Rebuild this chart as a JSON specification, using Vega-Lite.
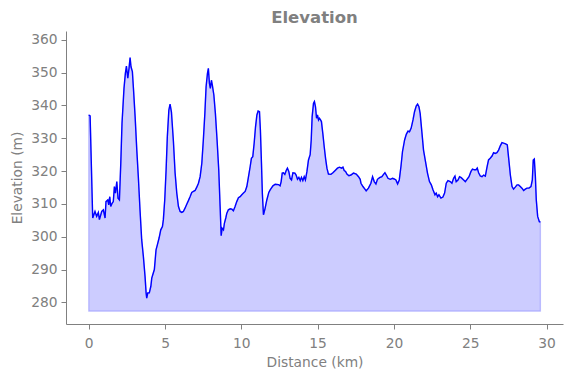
{
  "$schema": "https://vega.github.io/schema/vega-lite/v6.json",
  "autosize": {"type": "none"},
  "width": 497,
  "height": 293,
  "padding": {"left": 66, "top": 31, "right": 8, "bottom": 54},
  "background": "white",
  "title": {"text": "Elevation", "font": "DejaVu Sans", "fontSize": 16.5, "fontWeight": "bold", "color": "#808080", "anchor": "middle", "frame": "group", "offset": 5},
  "config": {
    "view": {"stroke": null},
    "axis": {"labelFont": "DejaVu Sans", "titleFont": "DejaVu Sans", "labelFontSize": 13.8, "titleFontSize": 13.8, "labelColor": "#808080", "titleColor": "#808080", "titleFontWeight": "normal", "domainColor": "#808080", "tickColor": "#808080", "tickSize": 5, "labelPadding": 4, "grid": false, "domainWidth": 1, "tickWidth": 1}
  },
  "data": {"values": [
    {"d":0,"e":337.1},{"d":0.09,"e":336.8},{"d":0.26,"e":305.7},{"d":0.41,"e":307.7},{"d":0.52,"e":306.2},{"d":0.63,"e":307.4},{"d":0.7,"e":305.2},{"d":0.85,"e":307.7},{"d":0.96,"e":308.2},{"d":1.07,"e":305.7},{"d":1.13,"e":310.7},{"d":1.25,"e":311.2},{"d":1.31,"e":309.7},{"d":1.38,"e":312.2},{"d":1.44,"e":309.2},{"d":1.53,"e":310.2},{"d":1.61,"e":310.7},{"d":1.68,"e":315.3},{"d":1.75,"e":313.3},{"d":1.84,"e":316.8},{"d":1.92,"e":311.7},{"d":2.01,"e":311.2},{"d":2.1,"e":322.4},{"d":2.18,"e":334.6},{"d":2.23,"e":338.6},{"d":2.31,"e":345.2},{"d":2.4,"e":349.8},{"d":2.47,"e":352},{"d":2.56,"e":348.3},{"d":2.64,"e":351.3},{"d":2.71,"e":354.6},{"d":2.77,"e":351.8},{"d":2.86,"e":350.3},{"d":2.93,"e":345.2},{"d":3.04,"e":336.6},{"d":3.15,"e":326.4},{"d":3.25,"e":318.3},{"d":3.36,"e":308.2},{"d":3.47,"e":299.1},{"d":3.58,"e":294},{"d":3.69,"e":287.9},{"d":3.76,"e":282.9},{"d":3.8,"e":281.3},{"d":3.87,"e":282.9},{"d":3.97,"e":282.9},{"d":4.07,"e":284.9},{"d":4.13,"e":287.4},{"d":4.24,"e":289.1},{"d":4.3,"e":290},{"d":4.41,"e":296},{"d":4.5,"e":297.6},{"d":4.61,"e":299.6},{"d":4.72,"e":302.1},{"d":4.83,"e":303.1},{"d":4.89,"e":305.2},{"d":4.98,"e":311.2},{"d":5.07,"e":320.4},{"d":5.15,"e":330.5},{"d":5.25,"e":338.6},{"d":5.33,"e":340.4},{"d":5.42,"e":338},{"d":5.55,"e":329},{"d":5.66,"e":319.4},{"d":5.77,"e":313.3},{"d":5.88,"e":309.2},{"d":5.99,"e":307.7},{"d":6.1,"e":307.4},{"d":6.2,"e":307.7},{"d":6.31,"e":308.7},{"d":6.43,"e":310},{"d":6.53,"e":311},{"d":6.64,"e":312.2},{"d":6.75,"e":313.5},{"d":6.86,"e":313.8},{"d":6.97,"e":314.1},{"d":7.08,"e":315.1},{"d":7.19,"e":316.3},{"d":7.3,"e":318.3},{"d":7.41,"e":322.4},{"d":7.51,"e":329.5},{"d":7.61,"e":337.6},{"d":7.69,"e":345.7},{"d":7.78,"e":349.8},{"d":7.84,"e":351.3},{"d":7.91,"e":346.7},{"d":7.97,"e":345.2},{"d":8.04,"e":347.7},{"d":8.1,"e":346.2},{"d":8.2,"e":343.2},{"d":8.3,"e":337.6},{"d":8.41,"e":329.5},{"d":8.52,"e":320.4},{"d":8.61,"e":309.2},{"d":8.68,"e":300.3},{"d":8.74,"e":302.6},{"d":8.83,"e":302.1},{"d":8.89,"e":304.1},{"d":8.98,"e":305.7},{"d":9.05,"e":307.2},{"d":9.15,"e":308.2},{"d":9.27,"e":308.5},{"d":9.38,"e":308.4},{"d":9.48,"e":307.9},{"d":9.59,"e":309.2},{"d":9.7,"e":310.7},{"d":9.81,"e":311.9},{"d":9.92,"e":312.2},{"d":10.03,"e":312.8},{"d":10.14,"e":313.3},{"d":10.25,"e":313.8},{"d":10.36,"e":315.3},{"d":10.47,"e":318.3},{"d":10.58,"e":321.4},{"d":10.66,"e":323.9},{"d":10.75,"e":324.4},{"d":10.84,"e":328.5},{"d":10.93,"e":333.5},{"d":11.02,"e":337.1},{"d":11.1,"e":338.3},{"d":11.19,"e":338.1},{"d":11.25,"e":332.5},{"d":11.32,"e":322.4},{"d":11.38,"e":313},{"d":11.45,"e":306.7},{"d":11.55,"e":308.5},{"d":11.67,"e":311.2},{"d":11.8,"e":313.5},{"d":11.89,"e":314.3},{"d":12.07,"e":315.5},{"d":12.22,"e":316},{"d":12.43,"e":315.9},{"d":12.54,"e":315.5},{"d":12.61,"e":316.8},{"d":12.68,"e":319.4},{"d":12.76,"e":319.5},{"d":12.85,"e":319},{"d":12.94,"e":320.2},{"d":13.02,"e":320.9},{"d":13.11,"e":319.9},{"d":13.2,"e":317.8},{"d":13.29,"e":317.3},{"d":13.38,"e":319.5},{"d":13.51,"e":319.4},{"d":13.59,"e":318.8},{"d":13.68,"e":317.5},{"d":13.77,"e":318.1},{"d":13.86,"e":317.1},{"d":13.94,"e":318.1},{"d":14.03,"e":317.1},{"d":14.12,"e":318.3},{"d":14.2,"e":317.3},{"d":14.3,"e":319.9},{"d":14.4,"e":323.4},{"d":14.51,"e":325},{"d":14.58,"e":329.5},{"d":14.64,"e":336.6},{"d":14.73,"e":340.7},{"d":14.79,"e":341.2},{"d":14.86,"e":339.6},{"d":14.93,"e":336.1},{"d":14.99,"e":337.1},{"d":15.06,"e":335.6},{"d":15.12,"e":336.1},{"d":15.19,"e":335.6},{"d":15.25,"e":335.1},{"d":15.34,"e":331.5},{"d":15.43,"e":327.5},{"d":15.52,"e":323.9},{"d":15.61,"e":320.9},{"d":15.71,"e":319.1},{"d":15.87,"e":319},{"d":16,"e":319.5},{"d":16.15,"e":320.2},{"d":16.3,"e":320.9},{"d":16.43,"e":321.2},{"d":16.57,"e":320.9},{"d":16.66,"e":321.2},{"d":16.74,"e":320.2},{"d":16.83,"e":319.9},{"d":16.92,"e":319.1},{"d":17.05,"e":318.6},{"d":17.18,"e":318.8},{"d":17.35,"e":319.4},{"d":17.53,"e":319.1},{"d":17.68,"e":318.3},{"d":17.79,"e":317.5},{"d":17.84,"e":316.3},{"d":17.97,"e":315.3},{"d":18.1,"e":314.5},{"d":18.18,"e":314},{"d":18.33,"e":314.8},{"d":18.49,"e":316.3},{"d":18.6,"e":318.3},{"d":18.71,"e":316.8},{"d":18.82,"e":316.1},{"d":18.92,"e":317.5},{"d":19.06,"e":318},{"d":19.21,"e":318.3},{"d":19.32,"e":319},{"d":19.41,"e":319.5},{"d":19.5,"e":318.8},{"d":19.61,"e":317.8},{"d":19.76,"e":317.5},{"d":19.91,"e":317.8},{"d":20.02,"e":317.6},{"d":20.13,"e":317.3},{"d":20.24,"e":316.1},{"d":20.35,"e":317.3},{"d":20.46,"e":321.4},{"d":20.56,"e":325.9},{"d":20.7,"e":329.5},{"d":20.81,"e":331.2},{"d":20.92,"e":332.2},{"d":21.02,"e":332},{"d":21.13,"e":333.1},{"d":21.25,"e":335.6},{"d":21.35,"e":338.1},{"d":21.46,"e":339.8},{"d":21.55,"e":340.4},{"d":21.64,"e":339.6},{"d":21.72,"e":337.6},{"d":21.84,"e":331.5},{"d":21.94,"e":326.4},{"d":22.07,"e":322.9},{"d":22.2,"e":319.4},{"d":22.33,"e":316.8},{"d":22.45,"e":315.8},{"d":22.56,"e":314.3},{"d":22.69,"e":312.8},{"d":22.77,"e":313.3},{"d":22.86,"e":312.2},{"d":22.95,"e":312.8},{"d":23.08,"e":311.8},{"d":23.21,"e":312.1},{"d":23.32,"e":313.3},{"d":23.43,"e":316.3},{"d":23.54,"e":317.1},{"d":23.69,"e":316.8},{"d":23.8,"e":316.3},{"d":23.91,"e":317.8},{"d":24,"e":318.5},{"d":24.08,"e":316.8},{"d":24.2,"e":317.3},{"d":24.3,"e":318.3},{"d":24.41,"e":318},{"d":24.57,"e":317.3},{"d":24.68,"e":316.8},{"d":24.79,"e":317.5},{"d":24.92,"e":318.3},{"d":25.05,"e":319.9},{"d":25.15,"e":320.6},{"d":25.27,"e":320.4},{"d":25.38,"e":320.4},{"d":25.46,"e":320.9},{"d":25.55,"e":319.5},{"d":25.66,"e":318.5},{"d":25.77,"e":318.3},{"d":25.88,"e":318.8},{"d":25.99,"e":318.5},{"d":26.1,"e":321.2},{"d":26.2,"e":323.4},{"d":26.31,"e":323.9},{"d":26.43,"e":324.6},{"d":26.53,"e":325.6},{"d":26.64,"e":325.4},{"d":26.75,"e":325.6},{"d":26.86,"e":326.4},{"d":26.97,"e":327.7},{"d":27.08,"e":328.7},{"d":27.19,"e":328.5},{"d":27.32,"e":328.3},{"d":27.43,"e":328},{"d":27.52,"e":323.9},{"d":27.63,"e":318.8},{"d":27.74,"e":315.3},{"d":27.84,"e":314.5},{"d":27.95,"e":315.1},{"d":28.07,"e":315.8},{"d":28.17,"e":315.8},{"d":28.28,"e":315.3},{"d":28.39,"e":314.8},{"d":28.5,"e":314.1},{"d":28.61,"e":314.5},{"d":28.72,"e":314.8},{"d":28.85,"e":314.8},{"d":28.98,"e":315.3},{"d":29.07,"e":317.3},{"d":29.13,"e":323.4},{"d":29.2,"e":323.7},{"d":29.27,"e":318.3},{"d":29.33,"e":311.2},{"d":29.42,"e":306.2},{"d":29.53,"e":304.6},{"d":29.6,"e":304.5}
  ]},
  "encoding": {
    "x": {"field": "d", "type": "quantitative", "title": "Distance (km)", "scale": {"domain": [-1.49, 31.08], "nice": false, "zero": false}, "axis": {"values": [0, 5, 10, 15, 20, 25, 30], "labelPadding": 7, "titlePadding": 6}},
    "y": {"field": "e", "type": "quantitative", "title": "Elevation (m)", "scale": {"domain": [273.4, 362.7], "nice": false, "zero": false}, "axis": {"values": [280, 290, 300, 310, 320, 330, 340, 350, 360], "titlePadding": 6}}
  },
  "layer": [
    {"mark": {"type": "area", "fill": "#0000ff", "fillOpacity": 0.2, "stroke": "#0000ff", "strokeOpacity": 0.2, "strokeWidth": 1.3}, "encoding": {"y2": {"datum": 277.3}}},
    {"mark": {"type": "line", "color": "#0000ff", "strokeWidth": 1.4}}
  ]
}
